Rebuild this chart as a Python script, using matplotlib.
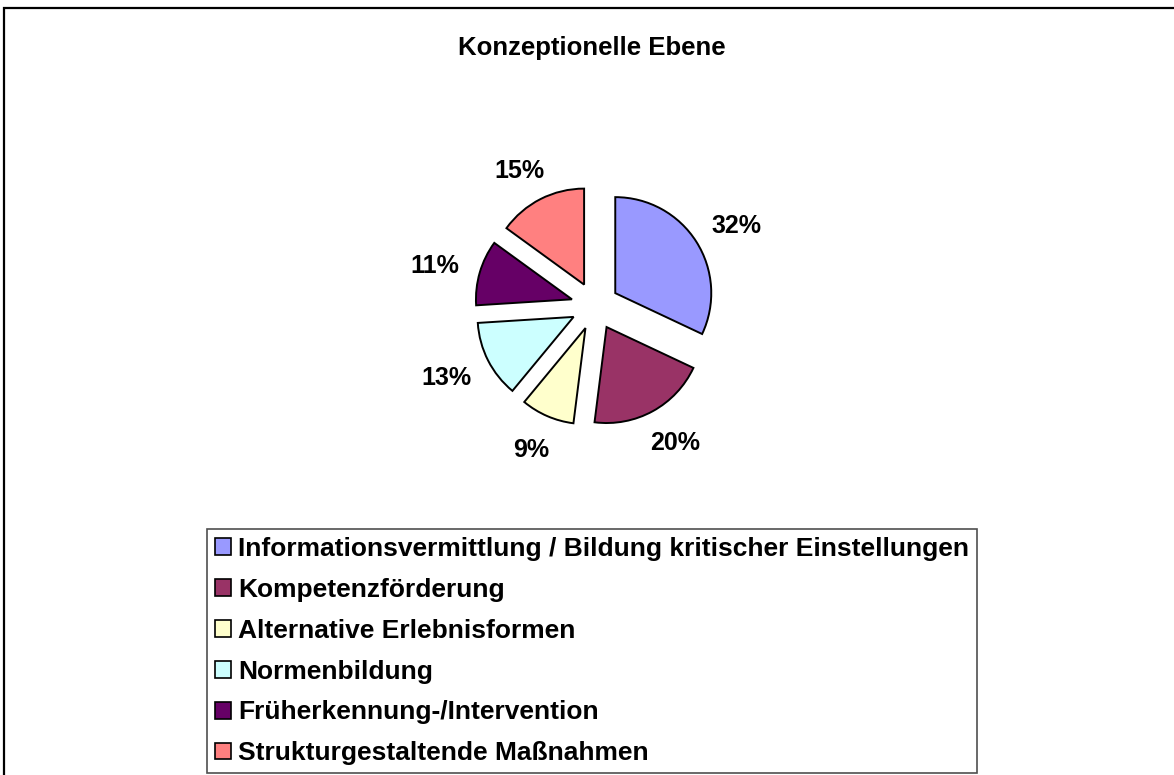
import numpy as np
import matplotlib
matplotlib.use("Agg")
import matplotlib.pyplot as plt
from matplotlib.patches import Rectangle

plt.rcParams['font.family'] = ['Liberation Sans', 'DejaVu Sans']
plt.rcParams['font.weight'] = 'bold'

title = "Konzeptionelle Ebene"
categories = [
    "Informationsvermittlung / Bildung kritischer Einstellungen",
    "Kompetenzförderung",
    "Alternative Erlebnisformen",
    "Normenbildung",
    "Früherkennung-/Intervention",
    "Strukturgestaltende Maßnahmen",
]
values = [32, 20, 9, 13, 11, 15]
colors = ["#9999FF", "#993366", "#FFFFCC", "#CCFFFF", "#660066", "#FF8080"]

W, H = 1174, 775
fig = plt.figure(figsize=(W / 100, H / 100), dpi=100)

# outer frame (only top/left visible in the original crop)
fig.patches.append(Rectangle((4 / W, -0.1), 1.2, 1 - 8 / H + 0.1, transform=fig.transFigure,
                             fill=False, edgecolor='black', linewidth=1.6))

fig.text(592 / W, 1 - 48 / H, title, ha='center', va='center', fontsize=18.5, fontweight='bold')

# pie axes: center (595, 306) px, radius 96 px
cx, cy, R = 595, 306, 96
half = 200
ax = fig.add_axes([(cx - half) / W, (H - cy - half) / H, 2 * half / W, 2 * half / H])
ax.axis('off')

explode = [0.25] * len(values)
wedges, texts, autotexts = ax.pie(
    values, colors=colors, explode=explode, startangle=90, counterclock=False,
    autopct=lambda p: f"{p:.0f}%", pctdistance=1.3,
    wedgeprops=dict(edgecolor='black', linewidth=1.4),
    textprops=dict(fontsize=18, fontweight='bold', color='black'),
    radius=1.0,
)
ax.set_xlim(-half / R, half / R)
ax.set_ylim(-half / R, half / R)
ax.set_aspect('equal')

# Excel-like outside label placement: box just outside the wedge edge
fig.canvas.draw()
renderer = fig.canvas.get_renderer()
gap = 22 / R  # in data units
for w, t in zip(wedges, autotexts):
    ang = np.deg2rad((w.theta1 + w.theta2) / 2)
    u = np.array([np.cos(ang), np.sin(ang)])
    apex = np.array(w.center)
    bb = t.get_window_extent(renderer)
    tw, th = bb.width / R, bb.height / R  # pixel -> data (1 unit = R px)
    pos = apex + (1.0 + gap) * u + np.array([tw / 2 * u[0], th / 2 * u[1]])
    t.set_position(pos)
    t.set_ha('center')
    t.set_va('center_baseline')

leg = fig.legend(
    wedges, categories, loc='upper left',
    bbox_to_anchor=(207 / W, 1 - 529 / H), bbox_transform=fig.transFigure,
    borderaxespad=0, frameon=True, fancybox=False, shadow=False,
    prop=dict(size=19, weight='bold'),
    handlelength=0.6, handleheight=0.6, handletextpad=0.27,
    labelspacing=0.64, borderpad=0.3,
)
leg.get_frame().set_edgecolor('#222222')
leg.get_frame().set_linewidth(1.2)
for h in leg.legend_handles:
    h.set_linewidth(1.2)

fig.savefig("out.png", dpi=100)
